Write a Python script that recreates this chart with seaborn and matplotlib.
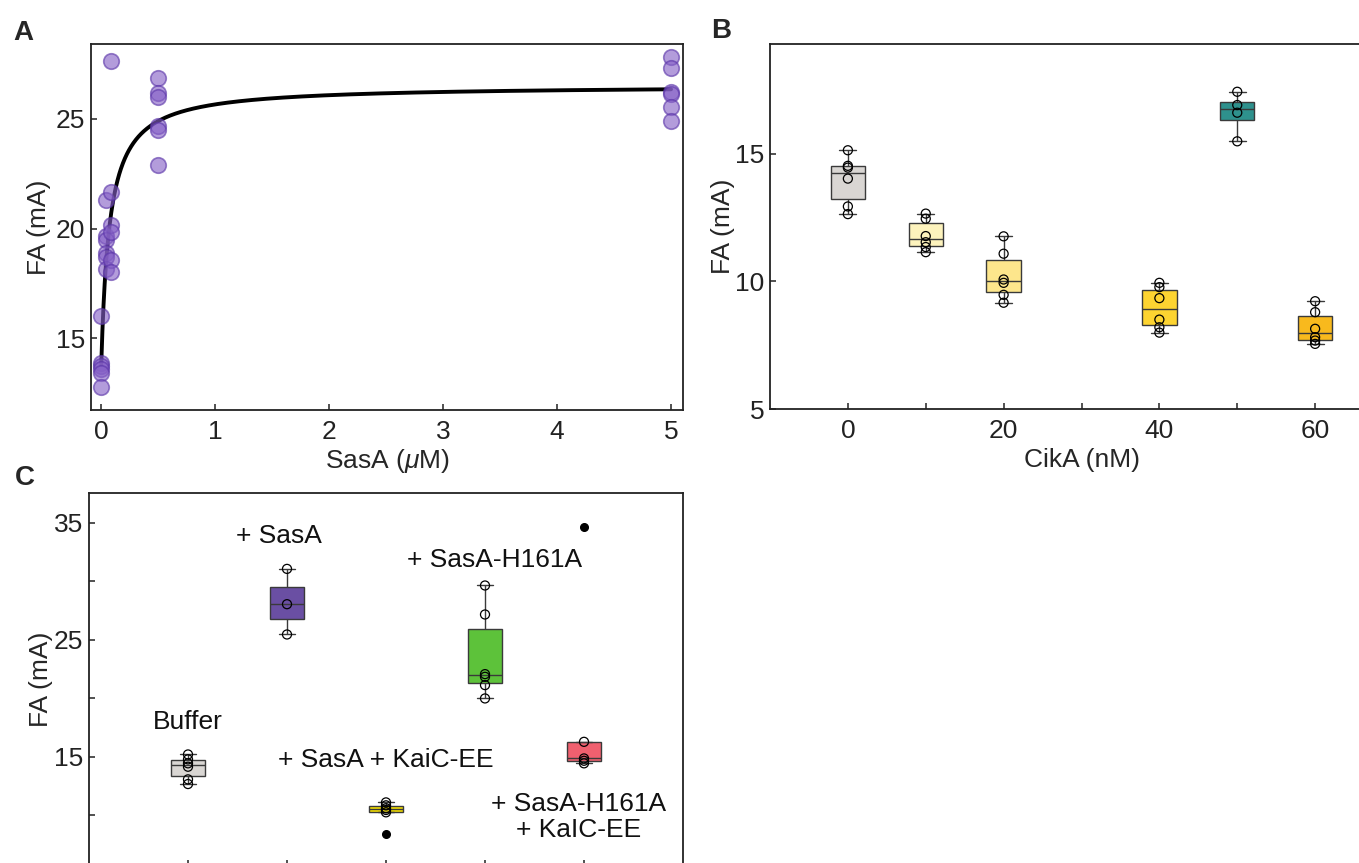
import numpy as np
import pandas as pd
import matplotlib
matplotlib.use("Agg")
import matplotlib.pyplot as plt
import seaborn as sns

# ---------------- Panel A: FA vs SasA concentration ----------------
sasa_um = [0.0, 0.04, 0.088, 0.5, 5.0]
fa_sasa_0 = [16.0, 13.89, 13.74, 13.59, 13.40, 12.76]
fa_sasa_004 = [21.3, 19.65, 19.5, 18.9, 18.7, 18.17]
fa_sasa_0088 = [27.64, 21.67, 20.17, 19.83, 18.56, 18.01]
fa_sasa_05 = [26.85, 26.17, 25.99, 24.68, 24.5, 22.88]
fa_sasa_5 = [27.8, 27.3, 26.24, 26.14, 25.56, 24.92]
# one-site binding fit parameters (fit curve drawn in panel A)
fit_baseline = 13.8
fit_bmax = 12.73
fit_kd = 0.0736

# ---------------- Panel B: FA vs CikA concentration ----------------
cika_nm = [0, 10, 20, 40, 50, 60]
fa_cika_0 = [15.13, 14.52, 14.45, 14.02, 12.93, 12.63]
fa_cika_10 = [12.65, 12.45, 11.77, 11.53, 11.34, 11.14]
fa_cika_20 = [11.76, 11.08, 10.07, 9.94, 9.47, 9.16]
fa_cika_40 = [9.94, 9.77, 9.34, 8.50, 8.20, 7.99]
fa_cika_50 = [17.42, 16.90, 16.60, 15.48]
fa_cika_60 = [9.22, 8.79, 8.14, 7.81, 7.68, 7.55]
cika_colors = ["#d9d6d3", "#fdf3bd", "#fde68c", "#fdd431", "#2e918d", "#f8b91d"]

# ---------------- Panel C: FA by condition ----------------
conditions = ["Buffer", "SasA", "SasA+KaiC-EE", "SasA-H161A", "SasA-H161A+KaIC-EE"]
condition_texts = ["Buffer", "+ SasA", "+ SasA + KaiC-EE", "+ SasA-H161A",
                   "+ SasA-H161A\n+ KaIC-EE"]
fa_buffer = [15.2, 14.78, 14.44, 14.15, 13.07, 12.67]
fa_sasa = [31.07, 28.05, 25.46]
fa_sasa_kaic = [11.1, 10.85, 10.6, 10.45, 10.25, 8.4]
fa_h161a = [29.65, 27.17, 22.07, 21.84, 21.13, 19.99]
fa_h161a_kaic = [34.66, 16.28, 14.86, 14.66, 14.44]
cond_colors = ["#d9d6d3", "#6a4fa3", "#f5e000", "#5dc23a", "#f0606f"]

# ---------------- tables ----------------
dfA = pd.DataFrame({
    "sasa": np.repeat(sasa_um, [len(fa_sasa_0), len(fa_sasa_004), len(fa_sasa_0088),
                                len(fa_sasa_05), len(fa_sasa_5)]),
    "fa": fa_sasa_0 + fa_sasa_004 + fa_sasa_0088 + fa_sasa_05 + fa_sasa_5,
})
b_series = [fa_cika_0, fa_cika_10, fa_cika_20, fa_cika_40, fa_cika_50, fa_cika_60]
dfB = pd.DataFrame({
    "cika": np.repeat(cika_nm, [len(s) for s in b_series]),
    "fa": sum(b_series, []),
})
c_series = [fa_buffer, fa_sasa, fa_sasa_kaic, fa_h161a, fa_h161a_kaic]
dfC = pd.DataFrame({
    "cond": np.repeat(conditions, [len(s) for s in c_series]),
    "fa": sum(c_series, []),
})

# ---------------- style ----------------
sns.set_theme(style="ticks")
plt.rcParams["font.family"] = ["Liberation Sans", "DejaVu Sans"]
plt.rcParams["mathtext.fontset"] = "custom"
plt.rcParams["mathtext.rm"] = "Liberation Sans"
plt.rcParams["mathtext.it"] = "Liberation Sans:italic"
plt.rcParams.update({
    "axes.linewidth": 1.3,
    "axes.edgecolor": "#222222",
    "xtick.direction": "in",
    "ytick.direction": "in",
    "xtick.major.size": 4,
    "ytick.major.size": 4,
    "xtick.major.width": 1.1,
    "ytick.major.width": 1.1,
    "xtick.color": "#222222",
    "ytick.color": "#222222",
})
FS = 19

W, H = 1359, 863
fig = plt.figure(figsize=(W / 100, H / 100), dpi=100)


def px_axes(l, t, r, b):
    return fig.add_axes([l / W, 1 - b / H, (r - l) / W, (b - t) / H])


axA = px_axes(91, 44, 683, 410)
axB = px_axes(770, 44, 1393, 409)
axC = px_axes(89, 493, 683, 866)

for ax in (axA, axB, axC):
    for s in ax.spines.values():
        s.set_visible(True)
    ax.tick_params(axis="x", labelsize=FS, pad=7)
    ax.tick_params(axis="y", labelsize=FS, pad=4)

# ---------------- Panel A ----------------
curve_x = np.linspace(0, 5, 2000)
curve_y = fit_baseline + fit_bmax * curve_x / (fit_kd + curve_x)
sns.lineplot(x=curve_x, y=curve_y, color="black", linewidth=2.8, ax=axA, zorder=2)
sns.scatterplot(data=dfA, x="sasa", y="fa", s=125, color="#8560c6", alpha=0.62,
                edgecolor="#5a34a8", linewidth=1.2, ax=axA, zorder=3)
axA.set_xlim(-0.09, 5.105)
axA.set_ylim(11.73, 28.41)
axA.set_xticks([0, 1, 2, 3, 4, 5])
axA.set_yticks([15, 20, 25])
axA.set_xlabel(r"SasA ($\mathit{\mu}$M)", fontsize=FS, labelpad=2)
axA.set_ylabel("FA (mA)", fontsize=FS, labelpad=4)

box_kws = dict(linecolor="#3a3a3a", linewidth=1.0, saturation=1,
               flierprops=dict(marker="o", markerfacecolor="black",
                               markeredgecolor="black", markersize=5.5))


def hollow_strip(ax, **kws):
    n0 = len(ax.collections)
    sns.stripplot(jitter=False, size=6.5, color="black", linewidth=0.9,
                  edgecolor="black", ax=ax, zorder=5, **kws)
    for coll in ax.collections[n0:]:
        coll.set_facecolor("none")
        coll.set_edgecolor("black")


# ---------------- Panel B ----------------
sns.boxplot(data=dfB, x="cika", y="fa", hue="cika", native_scale=True, dodge=False,
            palette=dict(zip(cika_nm, cika_colors)), width=0.44, legend=False,
            ax=axB, **box_kws)
hollow_strip(axB, data=dfB, x="cika", y="fa", native_scale=True)
axB.set_xlim(-10, 70)
axB.set_ylim(5, 19.29)
axB.set_xticks([0, 10, 20, 30, 40, 50, 60])
axB.set_xticklabels(["0", "", "20", "", "40", "", "60"])
axB.set_yticks([5, 10, 15])
axB.set_xlabel("CikA (nM)", fontsize=FS, labelpad=4)
axB.set_ylabel("FA (mA)", fontsize=FS, labelpad=0)

# ---------------- Panel C ----------------
sns.boxplot(data=dfC, x="cond", y="fa", hue="cond", order=conditions,
            palette=dict(zip(conditions, cond_colors)), width=0.34, legend=False,
            ax=axC, **box_kws)
# open circles for the non-outlying points (outliers show as filled dots)
keep = []
for cond, grp in dfC.groupby("cond", sort=False):
    q1, q3 = np.percentile(grp["fa"], [25, 75])
    iqr = q3 - q1
    keep.append(grp[(grp["fa"] >= q1 - 1.5 * iqr) & (grp["fa"] <= q3 + 1.5 * iqr)])
dfC_in = pd.concat(keep)
hollow_strip(axC, data=dfC_in, x="cond", y="fa", order=conditions)
axC.set_xlim(-1, 5)
axC.set_ylim(5.66, 37.56)
axC.set_xticks(range(len(conditions)))
axC.set_xticklabels([""] * len(conditions))
axC.set_yticks([10, 15, 20, 25, 30, 35])
axC.set_yticklabels(["", "15", "", "25", "", "35"])
axC.set_xlabel("")
axC.set_ylabel("FA (mA)", fontsize=FS, labelpad=1)

text_pos = [(0.0, 18.0), (0.92, 33.9), (2.0, 14.7), (3.1, 31.8), (3.95, 9.85)]
for txt, (tx, ty) in zip(condition_texts, text_pos):
    axC.text(tx, ty, txt, fontsize=FS, ha="center", va="center",
             multialignment="center", linespacing=1.1, color="#111111")

# ---------------- panel letters ----------------
for letter, (lx, ly) in zip("ABC", [(23, 33), (721, 31), (25, 478)]):
    fig.text(lx / W, 1 - ly / H, letter, fontsize=20, fontweight="bold",
             ha="center", va="center")

fig.savefig("out.png", dpi=100)
